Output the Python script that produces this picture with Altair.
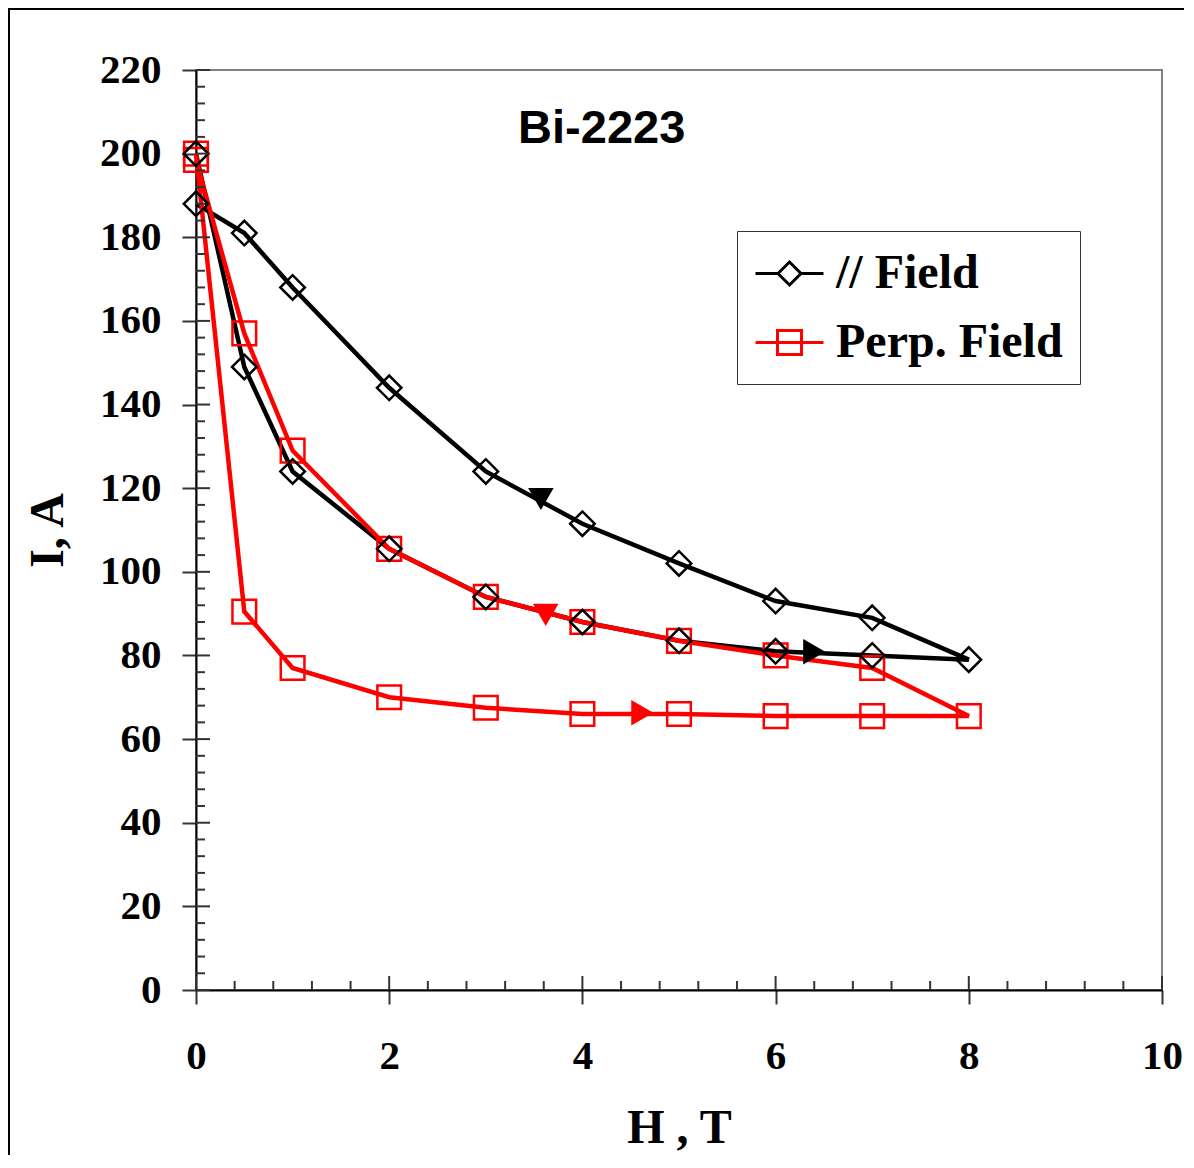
import altair as alt
import pandas as pd

# ---------------- data ----------------
par_H = [0, 0.5, 1, 2, 3, 4, 5, 6, 7, 8, 7, 6, 5, 4, 3, 2, 1, 0.5, 0]
par_I = [200, 149, 124, 105.5, 94, 88, 83.5, 81, 80, 79, 89, 93, 102, 111.5, 124, 144, 168, 181, 188]

perp_H = [0, 0.5, 1, 2, 3, 4, 5, 6, 7, 8, 7, 6, 5, 4, 3, 2, 1, 0.5, 0]
perp_I = [200, 90.5, 77, 70, 67.5, 66, 66, 65.5, 65.5, 65.5, 77, 80, 83.5, 88, 94, 105.5, 129, 157, 198.5]

series_names = ["// Field", "Perp. Field"]
series_colors = ["#000000", "#ff0000"]

arrow_H = [3.57, 6.4, 3.62, 4.62]
arrow_I = [117.4, 80.9, 89.7, 66.3]
arrow_shape = ["triangle-down", "triangle-right", "triangle-down", "triangle-right"]
arrow_color = ["#000000", "#000000", "#ff0000", "#ff0000"]
arrow_angle = [0, 0, 0, 0]

title_text = ["Bi-2223"]
title_H = [4.2]
title_I = [205.8]

x_major = [0, 2, 4, 6, 8, 10]
y_major = list(range(0, 221, 20))
x_minor = [round(0.4 * i, 1) for i in range(26) if i % 5]
y_minor = [4 * i for i in range(56) if i % 5]

# legend symbol paths (line + marker)
path_diamond = ("M-1,0L-0.0625,0M-0.0625,0L0.4167,-0.479L0.896,0L0.4167,0.479Z"
                "M0.896,0L1.833,0")
path_square = "M-1,0L1.833,0M-0.083,-0.5L0.917,-0.5L0.917,0.5L-0.083,0.5Z"

# ---------------- layout ----------------
W, H = 966, 920
PAD = {"left": 188, "top": 62, "right": 22, "bottom": 165}
SERIF = "Liberation Serif"

xscale = alt.Scale(domain=[0, 10], nice=False, zero=False)
yscale = alt.Scale(domain=[0, 220], nice=False, zero=False)

x_axis = alt.Axis(values=x_major, title="H , T", grid=False,
                  labelFont=SERIF, labelFontWeight="bold", labelFontSize=41,
                  labelColor="black", labelPadding=32, labelFlush=False,
                  tickSize=14, tickWidth=2, tickColor="#333333",
                  domainColor="black", domainWidth=2,
                  titleFont=SERIF, titleFontSize=48, titleFontWeight="bold",
                  titleColor="black", titlePadding=28)
y_axis = alt.Axis(values=y_major, title="I, A", grid=False,
                  labelFont=SERIF, labelFontWeight="bold", labelFontSize=41,
                  labelColor="black", labelPadding=21, labelFlush=False,
                  tickSize=14, tickWidth=2, tickColor="#333333",
                  domainColor="black", domainWidth=2,
                  titleFont=SERIF, titleFontSize=48, titleFontWeight="bold",
                  titleColor="black", titlePadding=27)

par_df = pd.DataFrame({"H": par_H, "I": par_I, "o": range(len(par_H))})
perp_df = pd.DataFrame({"H": perp_H, "I": perp_I, "o": range(len(perp_H))})
arrow_df = pd.DataFrame({"H": arrow_H, "I": arrow_I, "shape": arrow_shape,
                         "color": arrow_color, "angle": arrow_angle})
title_df = pd.DataFrame({"H": title_H, "I": title_I, "t": title_text})


def xy():
    return dict(
        x=alt.X("H:Q", scale=xscale, axis=x_axis),
        y=alt.Y("I:Q", scale=yscale, axis=y_axis),
    )


par_line = alt.Chart(par_df).mark_line(color=series_colors[0], strokeWidth=4.5).encode(
    order="o:Q", **xy())
perp_line = alt.Chart(perp_df).mark_line(color=series_colors[1], strokeWidth=4.5).encode(
    order="o:Q", **xy())
perp_pts = alt.Chart(perp_df).mark_point(shape="square", size=560, filled=False,
                                         color=series_colors[1], strokeWidth=2.5,
                                         opacity=1).encode(**xy())
par_pts = alt.Chart(par_df).mark_point(shape="diamond", size=600, filled=False,
                                       color=series_colors[0], strokeWidth=2.5,
                                       opacity=1).encode(**xy())
arrows = alt.Chart(arrow_df).mark_point(filled=True, size=650, opacity=1).encode(
    shape=alt.Shape("shape:N", scale=None),
    color=alt.Color("color:N", scale=None),
    angle=alt.Angle("angle:Q", scale=None),
    **xy())
title = alt.Chart(title_df).mark_text(font="Liberation Sans", fontWeight="bold",
                                      fontSize=47, color="black", align="center",
                                      baseline="middle").encode(text="t:N", **xy())


# ticks drawn inside the plot (minor ticks and inner halves of major ticks)
def xticks(vals, length):
    return alt.Chart(pd.DataFrame({"H": vals})).mark_rule(
        color="#333333", strokeWidth=2).encode(
        x=alt.X("H:Q", scale=xscale, axis=x_axis),
        y=alt.value(H), y2=alt.value(H - length))


def yticks(vals, length):
    return alt.Chart(pd.DataFrame({"I": vals})).mark_rule(
        color="#333333", strokeWidth=2).encode(
        y=alt.Y("I:Q", scale=yscale, axis=y_axis),
        x=alt.value(0), x2=alt.value(length))


legend_cfg = alt.Legend(title=None, orient="none", legendX=541, legendY=161,
                        padding=17, symbolSize=2304, symbolStrokeWidth=3,
                        symbolFillColor="transparent",
                        labelFont=SERIF, labelFontWeight="bold", labelFontSize=48,
                        labelColor="black", labelOffset=31, labelLimit=500,
                        rowPadding=19, strokeColor="#333333", fillColor="white")
legend_layer = alt.Chart(pd.DataFrame({"series": series_names, "H": [0, 0], "I": [0, 0]})
                         ).transform_filter("false").mark_point(filled=False, opacity=1).encode(
    color=alt.Color("series:N", scale=alt.Scale(domain=series_names, range=series_colors),
                    legend=legend_cfg),
    shape=alt.Shape("series:N", scale=alt.Scale(domain=series_names,
                                                range=[path_diamond, path_square]),
                    legend=legend_cfg),
    **xy())

frame_df = pd.DataFrame({"a": [0]})
frame_left = alt.Chart(frame_df).mark_rule(color="black", strokeWidth=2).encode(
    x=alt.value(-PAD["left"] + 1), y=alt.value(-PAD["top"]), y2=alt.value(H + PAD["bottom"]))
frame_top = alt.Chart(frame_df).mark_rule(color="black", strokeWidth=2).encode(
    x=alt.value(-PAD["left"]), x2=alt.value(W + PAD["right"]), y=alt.value(-PAD["top"] + 1))

chart = alt.layer(
    par_line, perp_line, perp_pts, par_pts, arrows, title,
    xticks(x_major, 14), xticks(x_minor, 9), yticks(y_major, 14), yticks(y_minor, 9),
    legend_layer, frame_left, frame_top,
).properties(
    width=W, height=H,
    padding=PAD,
    autosize=alt.AutoSizeParams(type="none"),
).configure_view(stroke="#808080", strokeWidth=2)

chart.save("out.html", embed_options={"renderer": "svg", "actions": False})
